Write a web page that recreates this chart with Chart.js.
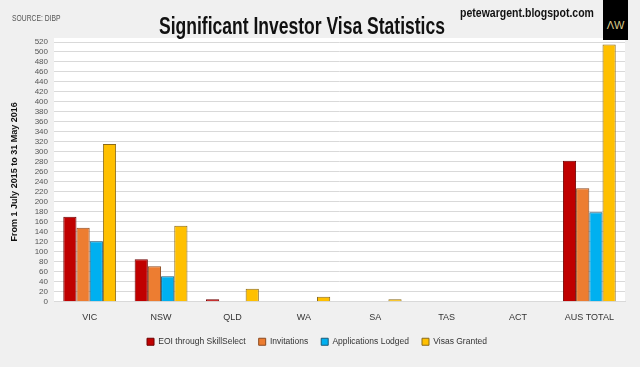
<!DOCTYPE html>
<html>
<head>
<meta charset="utf-8">
<script src="https://cdn.jsdelivr.net/npm/chart.js@4.4.1/dist/chart.umd.min.js"></script>
<style>
  body { margin: 0; background: #f0f0f0; }
  #wrap { position: relative; width: 640px; height: 367px; background: #f0f0f0; overflow: hidden; }
  #chart { position: absolute; left: 0; top: 0; }
  .hdr { position: absolute; white-space: nowrap; font-family: "Liberation Sans", Arial, sans-serif; transform-origin: 0 0; }
  #source { left: 12px; top: 13px; font-size: 9px; color: #555; transform: scaleX(0.75); }
  #title { left: 159px; top: 12px; font-size: 24px; font-weight: bold; color: #111; transform: scaleX(0.73); }
  #blog { left: 460px; top: 5px; font-size: 13px; font-weight: bold; color: #111; transform: scaleX(0.81); }
  #logo { position: absolute; left: 603px; top: 0; width: 25px; height: 40px; background: #000; color: #d8c98a;
          font: 11px "Liberation Sans", Arial, sans-serif; text-align: center; line-height: 50px; }
</style>
</head>
<body>
<div id="wrap">
  <canvas id="chart" width="640" height="367"></canvas>
  <div class="hdr" id="source">SOURCE: DIBP</div>
  <div class="hdr" id="title">Significant Investor Visa Statistics</div>
  <div class="hdr" id="blog">petewargent.blogspot.com</div>
  <div id="logo">ΛW</div>
</div>
<script>
// --- DATA ---
const categories = ['VIC', 'NSW', 'QLD', 'WA', 'SA', 'TAS', 'ACT', 'AUS TOTAL'];
const eoi = [170, 85, 5, 0, 0, 0, 0, 282];
const invitations = [148, 71, 0, 0, 0, 0, 0, 227];
const applications = [121, 51, 0, 0, 0, 0, 0, 179];
const visasGranted = [316, 152, 26, 10, 5, 0, 0, 515];
const yMax = 520, yStep = 20;
const yTitle = 'From 1 July 2015 to 31 May 2016';

const FONT = '"Liberation Sans", Arial, sans-serif';

// white plot area on grey background
const plotBg = {
  id: 'plotBg',
  beforeDraw(chart) {
    const { ctx, chartArea: a } = chart;
    ctx.save();
    ctx.fillStyle = '#ffffff';
    ctx.fillRect(a.left, a.top - 4, a.right - a.left, a.bottom - a.top + 4);
    ctx.restore();
  }
};

function ds(label, data, fill, border) {
  return { label, data, backgroundColor: fill, borderColor: border, borderWidth: 1,
           categoryPercentage: 0.74, barPercentage: 1.0 };
}

new Chart(document.getElementById('chart').getContext('2d'), {
  type: 'bar',
  data: {
    labels: categories,
    datasets: [
      ds('EOI through SkillSelect', eoi, '#c00000', '#6e0000'),
      ds('Invitations', invitations, '#ed7d31', '#8a4a20'),
      ds('Applications Lodged', applications, '#00b0f0', '#1a5a78'),
      ds('Visas Granted', visasGranted, '#ffc000', '#8a6a1a')
    ]
  },
  options: {
    responsive: false,
    animation: false,
    layout: { padding: { left: 9, right: 15, top: 42, bottom: 11 } },
    plugins: {
      legend: {
        position: 'bottom',
        labels: { boxWidth: 7, boxHeight: 7, padding: 13, color: '#333', font: { family: FONT, size: 8.5 } }
      },
      tooltip: { enabled: false }
    },
    scales: {
      x: {
        grid: { display: false },
        border: { color: '#d9d9d9' },
        ticks: { color: '#333', font: { family: FONT, size: 9 }, padding: 2 }
      },
      y: {
        min: 0, max: yMax,
        afterFit(scale) { scale.width = 45; },
        ticks: { stepSize: yStep, autoSkip: false, color: '#555', font: { family: FONT, size: 8 }, padding: 6 },
        grid: { color: '#d9d9d9', drawTicks: false },
        border: { display: false },
        title: { display: true, text: yTitle, color: '#111', font: { family: FONT, size: 9, weight: 'bold' }, padding: 0 }
      }
    }
  },
  plugins: [plotBg]
});
</script>
</body>
</html>
